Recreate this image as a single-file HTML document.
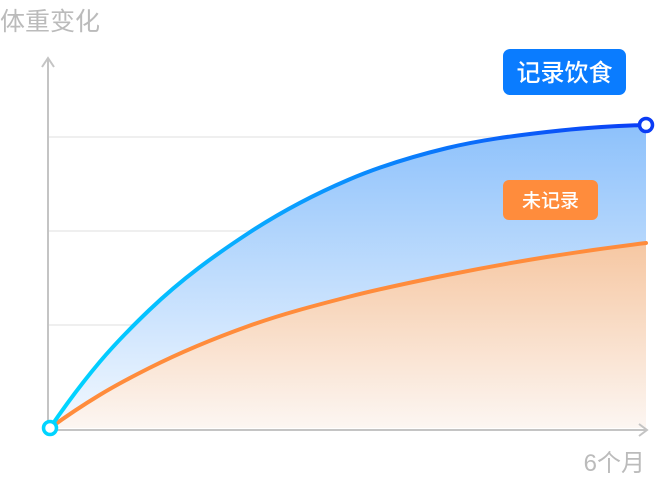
<!DOCTYPE html>
<html><head><meta charset="utf-8"><style>
body{margin:0;background:#fff;width:655px;height:479px;overflow:hidden;font-family:"Liberation Sans","Noto Sans CJK SC",sans-serif}
</style></head><body>
<svg id="chart" width="655" height="479" viewBox="0 0 655 479" xmlns="http://www.w3.org/2000/svg">
<defs>
<linearGradient id="blueFill" x1="0" y1="0" x2="0" y2="1"><stop offset="0" stop-color="#8dc1fb"/><stop offset="1" stop-color="#f2f8ff"/></linearGradient>
<linearGradient id="orangeFill" x1="0" y1="0" x2="0" y2="1"><stop offset="0" stop-color="#f6c7a2"/><stop offset="1" stop-color="#fcf6f2"/></linearGradient>
<linearGradient id="blueLine" x1="0" y1="0" x2="1" y2="0"><stop offset="0" stop-color="#00d8ff"/><stop offset="0.4" stop-color="#0aa0ff"/><stop offset="1" stop-color="#0a3cf5"/></linearGradient>
</defs>
<g id="grid"></g>
<g id="areas"></g>
<g id="axes">
<line x1="48" y1="58" x2="48" y2="430" stroke="#c4c4c4" stroke-width="2"/>
<polyline points="42,67 48,58 54,67" fill="none" stroke="#c4c4c4" stroke-width="2"/>
<line x1="48" y1="430" x2="647" y2="430" stroke="#c4c4c4" stroke-width="2"/>
<polyline points="639,424 647,430 639,436" fill="none" stroke="#c4c4c4" stroke-width="2"/>
</g>
<g id="lines"></g>
<text x="0" y="30" font-size="25" fill="#bbbbbb" font-family="Liberation Sans, Noto Sans CJK SC, sans-serif">体重变化</text>
<text x="645" y="471" text-anchor="end" font-size="24" fill="#bbbbbb" font-family="Liberation Sans, Noto Sans CJK SC, sans-serif">6个月</text>
<g>
<rect x="503" y="49" width="123" height="46" rx="7" fill="#0a7cff"/>
<text x="564.5" y="81" text-anchor="middle" font-size="24" font-weight="500" fill="#fff" font-family="Liberation Sans, Noto Sans CJK SC, sans-serif">记录饮食</text>
</g>
<g>
<rect x="503" y="180" width="95" height="40" rx="6" fill="#ff8c3c"/>
<text x="550.5" y="207" text-anchor="middle" font-size="19" font-weight="500" fill="#fff" font-family="Liberation Sans, Noto Sans CJK SC, sans-serif">未记录</text>
</g>
</svg>
<script>
const months=[0,0.5,1,2,3,4,5,6];
const recordedValues=[0,66,118,195,248,280,296,303];
const unrecordedValues=[0,33,60,102,131,153,171,185];
const gridValues=[103,197,291];
const NS='http://www.w3.org/2000/svg';
const xS=m=>50+m*(596/6);
const yS=v=>428-v;
function path(vals){
  const n=vals.length,x=months.slice(0,n);
  const h=[],d=[];for(let i=0;i<n-1;i++){h.push(x[i+1]-x[i]);d.push((vals[i+1]-vals[i])/h[i]);}
  const m=[];
  for(let i=1;i<n-1;i++)m[i]=(d[i-1]*h[i]+d[i]*h[i-1])/(h[i-1]+h[i]);
  m[0]=2*d[0]-m[1];
  m[n-1]=2*d[n-2]-m[n-2];
  let s='M'+xS(x[0])+','+yS(vals[0]);
  for(let i=0;i<n-1;i++){
    const hh=h[i];
    const c1x=xS(x[i]+hh/3),c1y=yS(vals[i]+m[i]*hh/3);
    const c2x=xS(x[i+1]-hh/3),c2y=yS(vals[i+1]-m[i+1]*hh/3);
    s+=' C'+c1x+','+c1y+' '+c2x+','+c2y+' '+xS(x[i+1])+','+yS(vals[i+1]);
  }
  return s;
}
const grid=document.getElementById('grid');
gridValues.forEach(v=>{const l=document.createElementNS(NS,'line');


l.setAttribute('x1',48);l.setAttribute('x2',645);l.setAttribute('y1',yS(v));l.setAttribute('y2',yS(v));
l.setAttribute('stroke','#efefef');l.setAttribute('stroke-width','2');grid.appendChild(l);});
const areas=document.getElementById('areas'),lines=document.getElementById('lines');
const xEnd=xS(months[months.length-1]),x0=xS(months[0]),yB=yS(0);
function area(vals,fill,name){const a=document.createElementNS(NS,'path');


a.setAttribute('d',path(vals)+' L'+xEnd+','+yB+' L'+x0+','+yB+' Z');a.setAttribute('fill',fill);areas.appendChild(a);}
area(recordedValues,'url(#blueFill)','recorded-area');
area(unrecordedValues,'url(#orangeFill)','unrecorded-area');
function line(vals,stroke,name){const l=document.createElementNS(NS,'path');


l.setAttribute('d',path(vals));l.setAttribute('fill','none');l.setAttribute('stroke',stroke);l.setAttribute('stroke-width','4');l.setAttribute('stroke-linecap','round');lines.appendChild(l);}
line(unrecordedValues,'#ff8c3c','unrecorded-line');
line(recordedValues,'url(#blueLine)','recorded-line');
function dot(x,y,c,name){const d=document.createElementNS(NS,'circle');


d.setAttribute('cx',x);d.setAttribute('cy',y);d.setAttribute('r',6.5);d.setAttribute('fill','#fff');d.setAttribute('stroke',c);d.setAttribute('stroke-width','3.5');lines.appendChild(d);}
dot(x0,yS(recordedValues[0]),'#00d4ff','start-point');
dot(xEnd,yS(recordedValues[recordedValues.length-1]),'#0a3cf5','end-point');
</script>
</body></html>
